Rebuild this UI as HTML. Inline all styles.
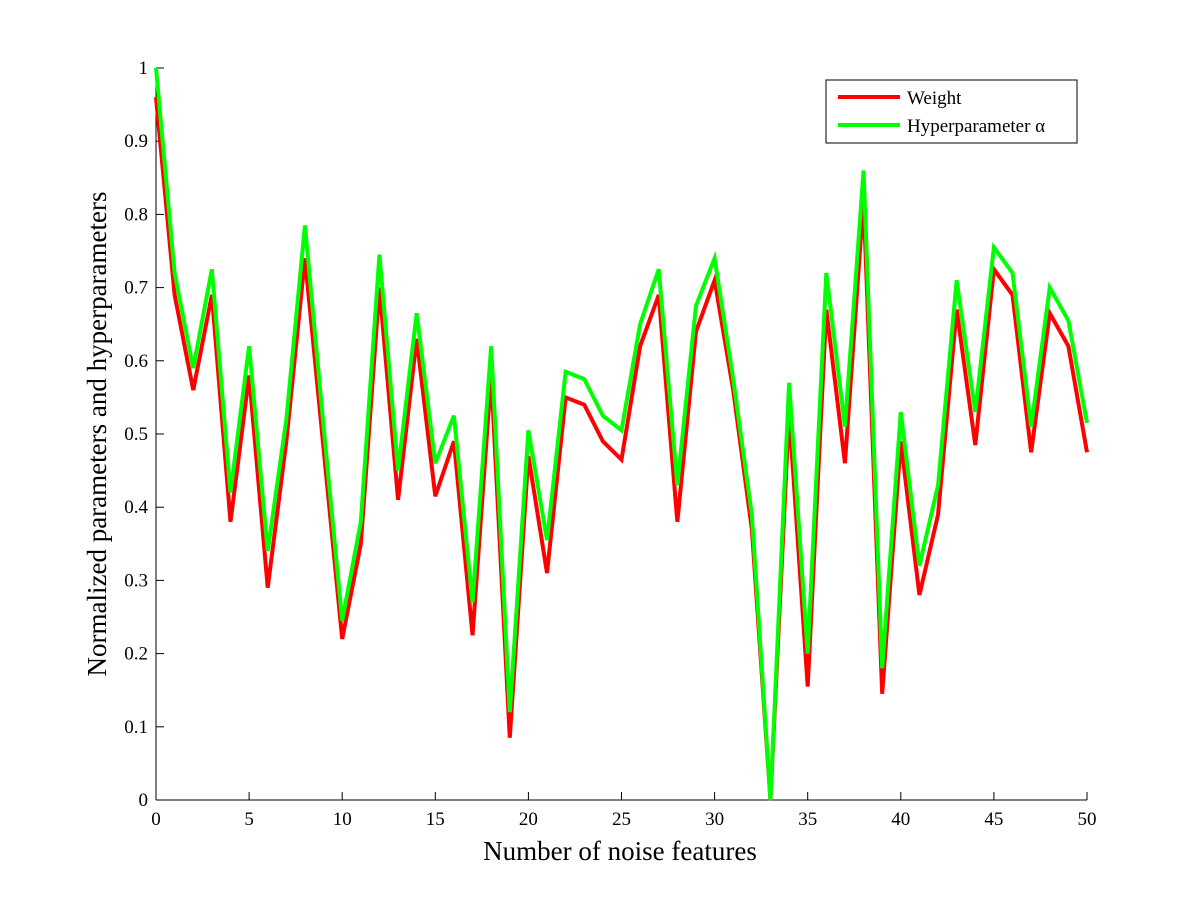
<!DOCTYPE html>
<html><head><meta charset="utf-8"><style>
html,body{margin:0;padding:0;background:#fff;}
svg text{font-family:"Liberation Serif",serif;fill:#000;}
</style></head><body>
<svg id="chart" width="1200" height="900" xmlns="http://www.w3.org/2000/svg">
<rect width="1200" height="900" fill="#fff"/>
<g id="axes"></g>
<g id="series"></g>
<text x="620" y="860" font-size="27" text-anchor="middle">Number of noise features</text>
<text transform="translate(106,434) rotate(-90)" font-size="27" text-anchor="middle">Normalized parameters and hyperparameters</text>
<g>
<rect x="826" y="80" width="251" height="63" fill="#fff" stroke="#000" stroke-width="1"/>
<line x1="838" y1="97" x2="900" y2="97" stroke="#ff0000" stroke-width="4"/>
<text x="907" y="104" font-size="19">Weight</text>
<line x1="838" y1="125" x2="900" y2="125" stroke="#00ff00" stroke-width="4"/>
<text x="907" y="132" font-size="19">Hyperparameter α</text>
</g>
</svg>
<script>
const xTicks=[0,5,10,15,20,25,30,35,40,45,50];
const yTicks=[0,0.1,0.2,0.3,0.4,0.5,0.6,0.7,0.8,0.9,1];
const weight=[0.96,0.69,0.56,0.69,0.38,0.58,0.29,0.49,0.74,0.48,0.22,0.35,0.70,0.41,0.63,0.415,0.49,0.225,0.58,0.085,0.47,0.31,0.55,0.54,0.49,0.465,0.62,0.69,0.38,0.64,0.71,0.56,0.37,0.0,0.53,0.155,0.67,0.46,0.82,0.145,0.49,0.28,0.39,0.67,0.485,0.725,0.69,0.475,0.665,0.62,0.475];
const alpha=[1.0,0.72,0.59,0.725,0.42,0.62,0.34,0.52,0.785,0.51,0.245,0.38,0.745,0.45,0.665,0.46,0.525,0.27,0.62,0.12,0.505,0.355,0.585,0.575,0.525,0.505,0.65,0.725,0.43,0.675,0.74,0.575,0.39,0.0,0.57,0.2,0.72,0.51,0.86,0.18,0.53,0.32,0.43,0.71,0.53,0.755,0.72,0.51,0.70,0.655,0.515];
const L=156,R=1087,T=68,B=800;
const xs=v=>L+(v-0)/(50-0)*(R-L);
const ys=v=>B-(v-0)/(1-0)*(B-T);
const NS="http://www.w3.org/2000/svg";
const ax=document.getElementById('axes');
function mk(tag,attrs,parent){const e=document.createElementNS(NS,tag);for(const k in attrs)e.setAttribute(k,attrs[k]);parent.appendChild(e);return e;}
const xl=mk('line',{x1:L,y1:B,x2:R,y2:B,stroke:'#000','stroke-width':1},ax);


const yl=mk('line',{x1:L,y1:T,x2:L,y2:B,stroke:'#000','stroke-width':1},ax);


xTicks.forEach(t=>{
 const tk=mk('line',{x1:xs(t),y1:B,x2:xs(t),y2:B-8,stroke:'#000','stroke-width':1},ax);
 
 
 const tx=mk('text',{x:xs(t),y:B+25,'font-size':19,'text-anchor':'middle'},ax);
 tx.textContent=t;
 
 
});
yTicks.forEach(t=>{
 const tk=mk('line',{x1:L,y1:ys(t),x2:L+8,y2:ys(t),stroke:'#000','stroke-width':1},ax);
 
 
 const tx=mk('text',{x:L-8,y:ys(t)+6,'font-size':19,'text-anchor':'end'},ax);
 tx.textContent=String(t);
 
 
});
const sg=document.getElementById('series');
function line(data,color,name){
 const d=data.map((v,i)=>(i?'L':'M')+xs(i).toFixed(2)+','+ys(v).toFixed(2)).join(' ');
 const p=mk('path',{d:d,fill:'none',stroke:color,'stroke-width':4,'stroke-linejoin':'miter','stroke-miterlimit':4},sg);
 
 
}
line(weight,'#ff0000','weight-line');
line(alpha,'#00ff00','hyperparameter-alpha-line');
</script>
</body></html>
